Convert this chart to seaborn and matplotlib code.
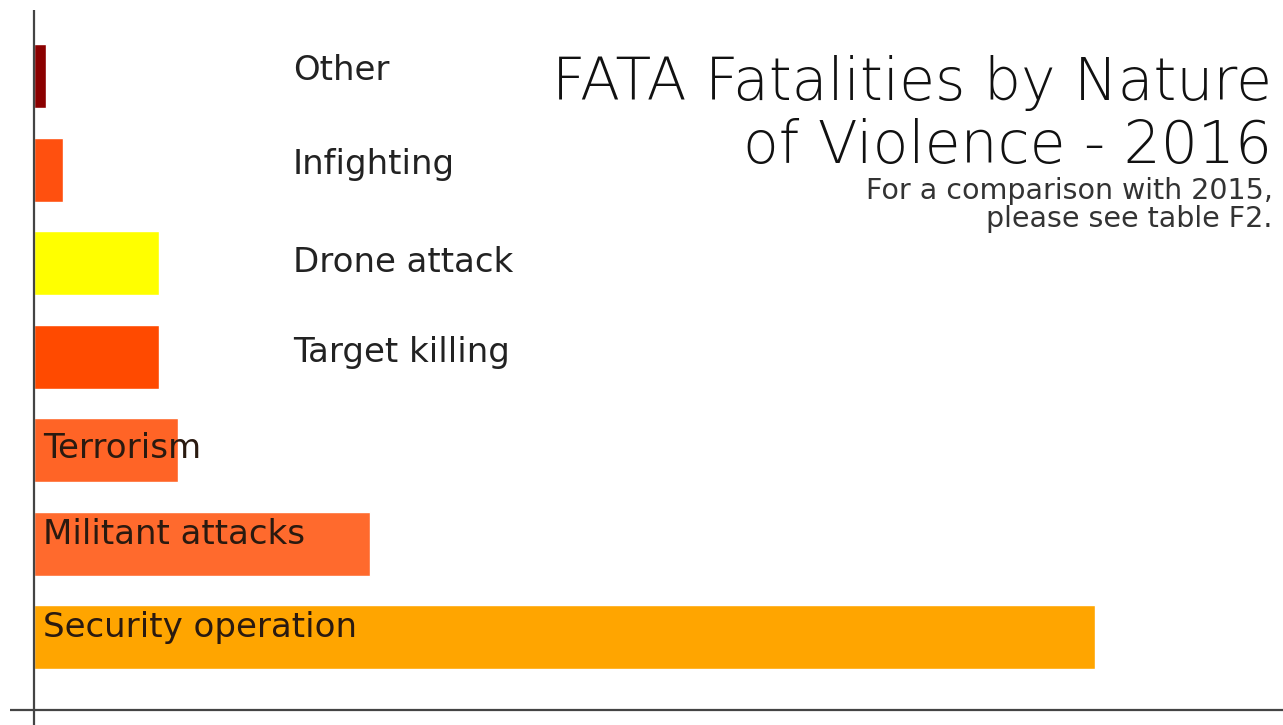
import matplotlib
matplotlib.use("Agg")
import matplotlib.pyplot as plt
import seaborn as sns
import pandas as pd

# Fatalities in FATA by nature of violence, 2016
categories = ["Other", "Infighting", "Drone attack", "Target killing",
              "Terrorism", "Militant attacks", "Security operation"]
fatalities = [6, 15, 65, 65, 75, 175, 552]
bar_colors = ["#8B0000", "#FF500F", "#FFFF00", "#FF4A00",
              "#FF6426", "#FF6A2D", "#FFA500"]
# labels placed beside the bar (short bars) or inside it (long bars)
label_inside = [False, False, False, False, True, True, True]
label_dy = [-0.06, -0.05, -0.005, -0.04, -0.015, -0.10, -0.10]

title_text = "FATA Fatalities by Nature\nof Violence - 2016"
subtitle_text = "For a comparison with 2015,\nplease see table F2."

df = pd.DataFrame({"category": categories, "fatalities": fatalities})

sns.set_theme(style="white")
plt.rcParams["font.family"] = ["DejaVu Sans"]

fig = plt.figure(figsize=(12.83, 7.25), dpi=100)
ax = fig.add_axes([10 / 1283, 0, 1273 / 1283, 715 / 725])

sns.barplot(data=df, y="category", x="fatalities", hue="category",
            order=categories, hue_order=categories, palette=bar_colors,
            saturation=1, width=0.685, orient="h", legend=False, ax=ax)

ax.set_xlim(-12.5, 650)
ax.set_ylim(6.94, -0.706)
for s in ax.spines.values():
    s.set_visible(False)
ax.set_xticks([])
ax.set_yticks([])
ax.set_xlabel("")
ax.set_ylabel("")

# axis lines crossing at the origin
ax.axvline(0, color="#444444", lw=1.6, zorder=5)
ax.axhline(6.78, color="#444444", lw=1.6, zorder=5)

for i, (cat, inside, dy) in enumerate(zip(categories, label_inside, label_dy)):
    x = 4.7 if inside else 134.8
    ax.text(x, i + dy, cat, va="center", ha="left", fontsize=24.5,
            color="#2a1a10" if inside else "#222222", zorder=6)

fig.text(1272 / 1283, 1 - 115 / 725, title_text, ha="right", va="center",
         fontsize=42, color="#111111", linespacing=1.12, fontweight="light")
fig.text(1273 / 1283, 1 - 205 / 725, subtitle_text, ha="right", va="center",
         fontsize=20.5, color="#333333", linespacing=1.02)

fig.savefig("out.png", dpi=100, facecolor="white")
